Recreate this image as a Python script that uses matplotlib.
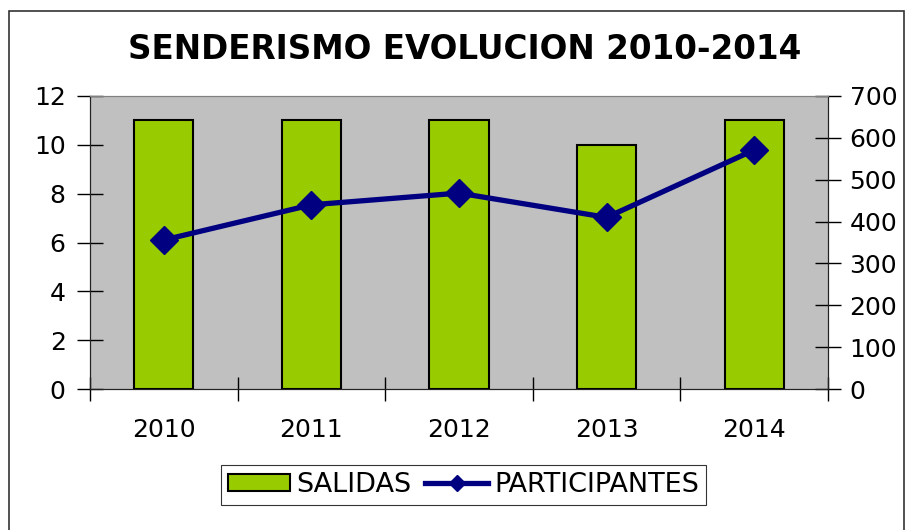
import matplotlib.pyplot as plt
import numpy as np
from matplotlib.patches import Rectangle

plt.rcParams.update({'font.family': 'DejaVu Sans', 'font.size': 18})

years = ['2010', '2011', '2012', '2013', '2014']
salidas = [11, 11, 11, 10, 11]
participantes = [356, 440, 468, 410, 571]

fig = plt.figure(figsize=(9.07, 5.30), dpi=100)
ax = fig.add_axes([0.0992, 0.2660, 0.8137, 0.5529])
ax2 = ax.twinx()

x = np.arange(len(years))
ax.bar(x, salidas, 0.4, color='#99CC00', edgecolor='black', linewidth=1.5,
       label='SALIDAS', zorder=2)
ax2.plot(x, participantes, color='#000080', linewidth=3.8, marker='D',
         markersize=14, label='PARTICIPANTES', zorder=3)

ax.set_facecolor('#C0C0C0')
ax.set_xlim(-0.5, len(years) - 0.5)
ax.set_ylim(0, 12)
ax.set_yticks(range(0, 13, 2))
ax2.set_ylim(0, 700)
ax2.set_yticks(range(0, 701, 100))

# ticks between categories, labels centred under bars
ax.set_xticks(np.arange(-0.5, len(years), 1.0))
ax.set_xticklabels([])
ax.set_xticks(x, minor=True)
ax.set_xticklabels(years, minor=True)
ax.tick_params(axis='x', which='major', direction='inout', length=17, width=1)
ax.tick_params(axis='x', which='minor', length=0, pad=21)
ax.tick_params(axis='y', direction='inout', length=19, width=1, pad=8)
ax2.tick_params(axis='y', direction='inout', length=19, width=1, pad=6)

for a in (ax, ax2):
    a.spines['top'].set_color('#808080')
    for s in ('left', 'bottom', 'right'):
        a.spines[s].set_color('#222222')

fig.text(0.512, 0.906, 'SENDERISMO EVOLUCION 2010-2014', ha='center',
         va='center', fontsize=23.5, fontweight='bold')

h1, l1 = ax.get_legend_handles_labels()
h2, l2 = ax2.get_legend_handles_labels()
leg = fig.legend(h1 + h2, l1 + l2, loc='center', bbox_to_anchor=(0.511, 0.085),
                 ncol=2, frameon=True, fancybox=False, fontsize=19.5,
                 handlelength=2.3, handleheight=0.55, handletextpad=0.25,
                 columnspacing=0.5, borderpad=0.25, markerscale=0.55)
leg.get_frame().set_edgecolor('black')
leg.get_frame().set_linewidth(0.8)

# outer chart border
fig.patches.append(Rectangle((9 / 907, -0.05), 895 / 907, 1.05 - 11 / 530,
                             transform=fig.transFigure, fill=False,
                             edgecolor='#333333', linewidth=1.2))

plt.savefig('out.png', dpi=100)
